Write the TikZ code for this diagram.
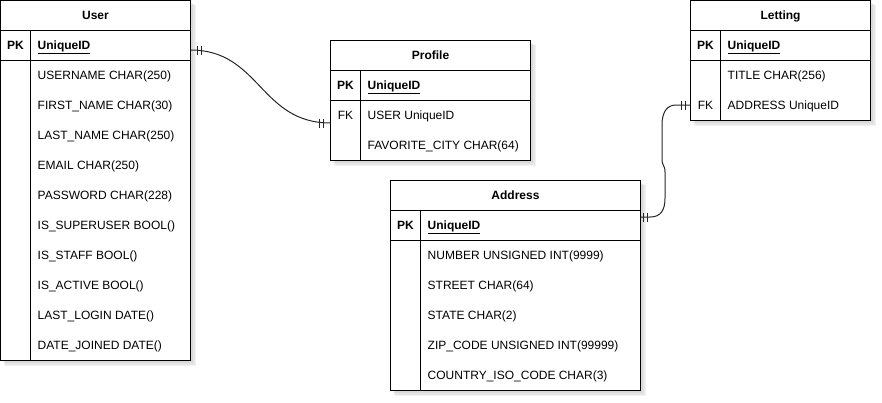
\documentclass[tikz,border=0pt]{standalone}
\usepackage{fontspec}
\setmainfont{Liberation Sans}
\begin{document}
\begin{tikzpicture}[x=1pt,y=-1pt,
  frame/.style={draw=black, line width=1pt, fill=white},
  shade/.style={fill=black, opacity=0.05},
  ttl/.style={font=\fontsize{12}{14}\selectfont\bfseries, anchor=base, inner sep=0pt},
  keytxt/.style={font=\fontsize{12}{14}\selectfont, anchor=base, inner sep=0pt},
  fld/.style={font=\fontsize{12}{14}\selectfont, anchor=base west, inner sep=0pt},
  sep/.style={line width=1pt},
  rel/.style={line width=1pt, draw=black!85},
  bar/.style={line width=1pt, draw=black!85}]

\useasboundingbox (0,0) rectangle (882,402);

% shadows
\foreach \xa/\ya/\xb/\yb in {0.5/0.5/190.5/360.5, 690.5/0.5/870.5/120.5, 330.5/40.5/530.5/160.5, 390.5/180.5/640.5/390.5}{
  \fill[shade] (\xa+2,\ya+2) rectangle (\xb+2,\yb+2);
  \fill[shade] (\xa+3,\ya+3) rectangle (\xb+4,\yb+4);
  \fill[shade] (\xa+4,\ya+4) rectangle (\xb+5,\yb+5);
}

% ---------------- User ----------------
\draw[frame] (0.5,0.5) rectangle (190.5,360.5);
\draw[sep] (0.5,30.5) -- (190.5,30.5);
\draw[sep] (0.5,60.5) -- (190.5,60.5);
\draw[sep] (30.5,30.5) -- (30.5,360.5);
\node[ttl] (userT) at (95.5,19.8) {User};
\node[keytxt, font=\fontsize{12}{14}\selectfont\bfseries] (userPK) at (15.5,49.8) {PK};
\node[fld, font=\fontsize{12}{14}\selectfont\bfseries] (userID) at (37.5,49.8) {\underline{UniqueID}};
\foreach \t [count=\i] in {USERNAME CHAR(250), FIRST\_NAME CHAR(30), LAST\_NAME CHAR(250), EMAIL CHAR(250), PASSWORD CHAR(228), IS\_SUPERUSER BOOL(), IS\_STAFF BOOL(), IS\_ACTIVE BOOL(), LAST\_LOGIN DATE(), DATE\_JOINED DATE()}{
  \node[fld] (user\i) at (37.5,49.8+30*\i) {\t};
}

% ---------------- Letting ----------------
\draw[frame] (690.5,0.5) rectangle (870.5,120.5);
\draw[sep] (690.5,30.5) -- (870.5,30.5);
\draw[sep] (690.5,60.5) -- (870.5,60.5);
\draw[sep] (720.5,30.5) -- (720.5,120.5);
\node[ttl] (letT) at (780.5,19.8) {Letting};
\node[keytxt, font=\fontsize{12}{14}\selectfont\bfseries] (letPK) at (705.5,49.8) {PK};
\node[fld, font=\fontsize{12}{14}\selectfont\bfseries] (letID) at (727.5,49.8) {\underline{UniqueID}};
\node[fld] (let1) at (727.5,79.8) {TITLE CHAR(256)};
\node[keytxt] (letFK) at (705.5,109.8) {FK};
\node[fld] (let2) at (727.5,109.8) {ADDRESS UniqueID};

% ---------------- Profile ----------------
\draw[frame] (330.5,40.5) rectangle (530.5,160.5);
\draw[sep] (330.5,70.5) -- (530.5,70.5);
\draw[sep] (330.5,100.5) -- (530.5,100.5);
\draw[sep] (360.5,70.5) -- (360.5,160.5);
\node[ttl] (proT) at (430.5,59.8) {Profile};
\node[keytxt, font=\fontsize{12}{14}\selectfont\bfseries] (proPK) at (345.5,89.8) {PK};
\node[fld, font=\fontsize{12}{14}\selectfont\bfseries] (proID) at (367.5,89.8) {\underline{UniqueID}};
\node[keytxt] (proFK) at (345.5,119.8) {FK};
\node[fld] (pro1) at (367.5,119.8) {USER UniqueID};
\node[fld] (pro2) at (367.5,149.8) {FAVORITE\_CITY CHAR(64)};

% ---------------- Address ----------------
\draw[frame] (390.5,180.5) rectangle (640.5,390.5);
\draw[sep] (390.5,210.5) -- (640.5,210.5);
\draw[sep] (390.5,240.5) -- (640.5,240.5);
\draw[sep] (420.5,210.5) -- (420.5,390.5);
\node[ttl] (adrT) at (515.5,199.8) {Address};
\node[keytxt, font=\fontsize{12}{14}\selectfont\bfseries] (adrPK) at (405.5,229.8) {PK};
\node[fld, font=\fontsize{12}{14}\selectfont\bfseries] (adrID) at (427.5,229.8) {\underline{UniqueID}};
\foreach \t [count=\i] in {NUMBER UNSIGNED INT(9999), STREET CHAR(64), STATE CHAR(2), ZIP\_CODE UNSIGNED INT(99999), COUNTRY\_ISO\_CODE CHAR(3)}{
  \node[fld] (adr\i) at (427.5,229.8+30*\i) {\t};
}

% ---------------- Relations ----------------
\coordinate (c1a) at (190.5,50);
\coordinate (c1b) at (330.5,123);
\draw[rel] (c1a) .. controls (260,50) and (260,123) .. (c1b);
\draw[bar] ([xshift=7pt]c1a) ++(0,-4.5) -- ++(0,9);
\draw[bar] ([xshift=11pt]c1a) ++(0,-4.5) -- ++(0,9);
\draw[bar] ([xshift=-7pt]c1b) ++(0,-4.5) -- ++(0,9);
\draw[bar] ([xshift=-11pt]c1b) ++(0,-4.5) -- ++(0,9);

\coordinate (c2a) at (640.5,217);
\coordinate (c2b) at (690.5,105);
\draw[rel] (c2a) -- (650,217) .. controls (661,217) and (665,210) .. (665,198) -- (665,172) .. controls (665,165) and (662,166) .. (662,159) -- (662,125) .. controls (662,112) and (667,105) .. (676,105) -- (c2b);
\draw[bar] ([xshift=3pt]c2a) ++(0,-4.5) -- ++(0,9);
\draw[bar] ([xshift=7pt]c2a) ++(0,-4.5) -- ++(0,9);
\draw[bar] ([xshift=-5pt]c2b) ++(0,-4.5) -- ++(0,9);
\draw[bar] ([xshift=-9pt]c2b) ++(0,-4.5) -- ++(0,9);
\end{tikzpicture}
\end{document}
